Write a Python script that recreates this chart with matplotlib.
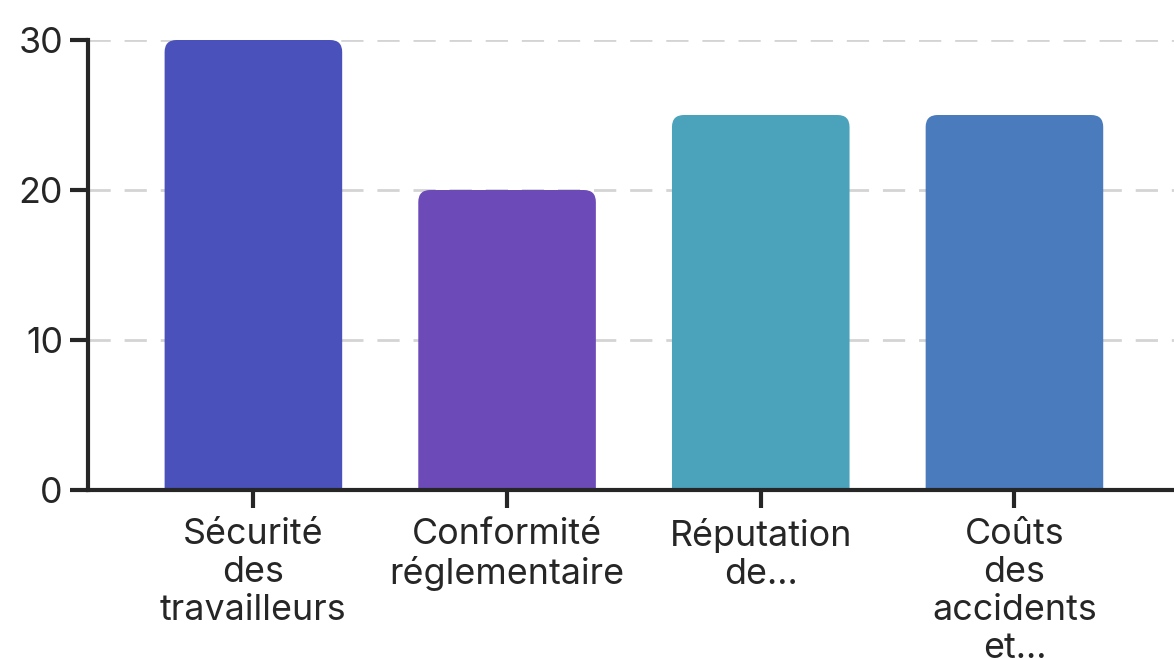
import matplotlib.pyplot as plt
from matplotlib.patches import FancyBboxPatch

plt.rcParams['font.family'] = ['Inter', 'DejaVu Sans']

categories = ['Sécurité\ndes\ntravailleurs', 'Conformité\nréglementaire',
              'Réputation\nde…', 'Coûts\ndes\naccidents\net…']
values = [30, 20, 25, 25]
colors = ['#4a51bb', '#6c4bb9', '#4aa3bb', '#4a7bbd']

W, H = 1174, 658
fig = plt.figure(figsize=(W / 100, H / 100), dpi=100)
ax = fig.add_axes([88 / W, (H - 490) / H, (W - 88) / W, 450 / H])

x0, x1 = -0.652, 3.629
ax.set_xlim(x0, x1)
ax.set_ylim(0, 30)

px_x = (x1 - x0) / (W - 88)
px_y = 30 / 450
r = 12 * px_x
width = 0.7
for i, (v, c) in enumerate(zip(values, colors)):
    patch = FancyBboxPatch((i - width / 2, -2), width, v + 2,
                           boxstyle=f'round,pad=0,rounding_size={r}',
                           mutation_aspect=px_y / px_x,
                           facecolor=c, edgecolor='none', zorder=2)
    ax.add_patch(patch)

ax.set_yticks([0, 10, 20, 30])
ax.set_xticks(range(len(categories)))
ax.set_xticklabels(categories, linespacing=1.2)
ax.yaxis.grid(True, color='#d4d4d4', linewidth=2, dashes=(8, 5), zorder=0)
ax.set_axisbelow(True)

for s in ['top', 'right']:
    ax.spines[s].set_visible(False)
for s in ['left', 'bottom']:
    ax.spines[s].set_linewidth(3)
    ax.spines[s].set_color('#262626')
    ax.spines[s].set_zorder(3)

ax.tick_params(axis='both', length=13, width=3, color='#262626',
               labelsize=25.8, labelcolor='#262626')
ax.tick_params(axis='x', pad=7)
ax.tick_params(axis='y', pad=5)

fig.savefig('out.png', dpi=100)
